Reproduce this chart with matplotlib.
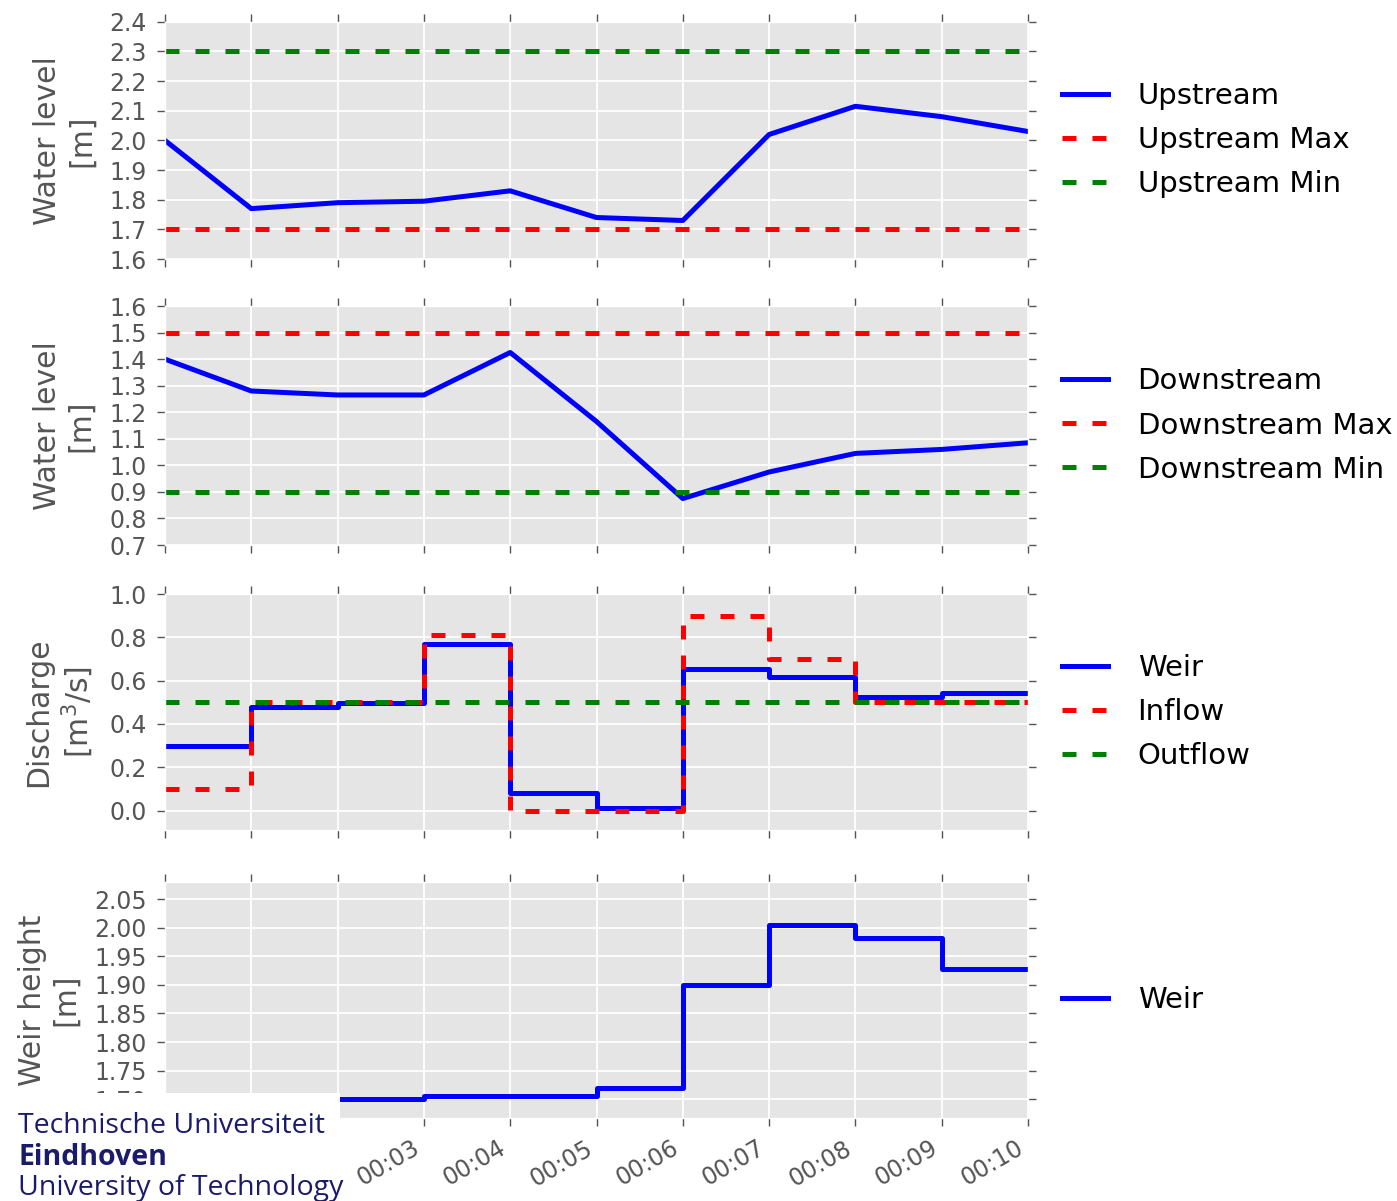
import numpy as np
import matplotlib
matplotlib.use("Agg")
import matplotlib.pyplot as plt
from matplotlib.patches import Rectangle

plt.style.use('ggplot')

# ---------------- data (one value per minute, 00:00 .. 00:10) ----------------
minutes = np.arange(11)
time_labels = ["00:%02d" % m for m in minutes]

upstream = [2.00, 1.77, 1.79, 1.795, 1.83, 1.74, 1.73, 2.02, 2.115, 2.08, 2.03]
upstream_max = 1.7
upstream_min = 2.3

downstream = [1.40, 1.28, 1.265, 1.265, 1.425, 1.165, 0.875, 0.975, 1.045, 1.06, 1.085]
downstream_max = 1.5
downstream_min = 0.9

weir_q = [0.30, 0.48, 0.497, 0.77, 0.08, 0.01, 0.655, 0.615, 0.525, 0.545, 0.545]
inflow = [0.10, 0.50, 0.50, 0.81, 0.0, 0.0, 0.90, 0.70, 0.50, 0.50, 0.50]
outflow = 0.5

weir_h = [1.70, 1.70, 1.70, 1.706, 1.706, 1.72, 1.90, 2.004, 1.982, 1.928, 1.928]

# ---------------- figure ----------------
fig = plt.figure(figsize=(13.97, 12.01), dpi=100)

left, width = 0.1181, 0.6178
boxes = [(0.7843, 0.1976), (0.5462, 0.1990), (0.3089, 0.1965), (0.0691, 0.1965)]
axs = [fig.add_axes([left, b, width, h]) for b, h in boxes]

lw = 3.6
dash = (2.8, 3.2)
tick_fs = 17
label_fs = 21.5
leg_fs = 21


def dashed(ax, y, color, label, steps=False):
    yy = np.full(len(minutes), y) if np.isscalar(y) else y
    ax.plot(minutes, yy, color=color, lw=lw, dashes=dash, label=label,
            drawstyle='steps-post' if steps else 'default')


# water level upstream
ax = axs[0]
ax.plot(minutes, upstream, color='b', lw=lw, label='Upstream')
dashed(ax, upstream_max, 'r', 'Upstream Max')
dashed(ax, upstream_min, 'g', 'Upstream Min')
ax.set_ylim(1.6, 2.4)
ax.set_yticks(np.arange(1.6, 2.41, 0.1))
ax.set_ylabel('Water level\n[m]', fontsize=label_fs, labelpad=10)

# water level downstream
ax = axs[1]
ax.plot(minutes, downstream, color='b', lw=lw, label='Downstream')
dashed(ax, downstream_max, 'r', 'Downstream Max')
dashed(ax, downstream_min, 'g', 'Downstream Min')
ax.set_ylim(0.7, 1.6)
ax.set_yticks(np.arange(0.7, 1.61, 0.1))
ax.set_ylabel('Water level\n[m]', fontsize=label_fs, labelpad=10)

# discharge
ax = axs[2]
ax.plot(minutes, weir_q, color='b', lw=lw, drawstyle='steps-post', label='Weir')
dashed(ax, inflow, 'r', 'Inflow', steps=True)
dashed(ax, outflow, 'g', 'Outflow')
ax.set_ylim(-0.09, 1.0)
ax.set_yticks(np.arange(0.0, 1.01, 0.2))
ax.set_ylabel('Discharge\n[m$^3$/s]', fontsize=label_fs, labelpad=10)

# weir height
ax = axs[3]
ax.plot(minutes, weir_h, color='b', lw=lw, drawstyle='steps-post', label='Weir')
ax.set_ylim(1.667, 2.08)
ax.set_yticks(np.arange(1.70, 2.051, 0.05))
ax.set_ylabel('Weir height\n[m]', fontsize=label_fs, labelpad=10)

for i, ax in enumerate(axs):
    ax.set_xlim(0, 10)
    ax.set_xticks(minutes)
    ax.grid(True, color='white', lw=1.3)
    ax.tick_params(axis='both', which='major', direction='out', length=6, width=1,
                   pad=7, colors='#555555', labelsize=tick_fs, top=True, right=True)
    ax.yaxis.label.set_color('#555555')
    ax.legend(loc='center left', bbox_to_anchor=(1.0255, 0.5), borderaxespad=0,
              frameon=False, fontsize=leg_fs, handlelength=1.57,
              handletextpad=1.03, labelspacing=0.55)
    if i < 3:
        ax.set_xticklabels([])
    else:
        ax.set_xticklabels(time_labels, rotation=30, ha='right')

# university logo in the lower left corner
fig.patches.append(Rectangle((0, 0), 0.2434, 0.0899, transform=fig.transFigure,
                             facecolor='white', edgecolor='none', zorder=10))
navy = '#1b1b6b'
fig.text(0.013, 0.0625, 'Technische Universiteit', color=navy, fontsize=20.5,
         family='Open Sans', va='center', zorder=11)
fig.text(0.013, 0.0365, 'Eindhoven', color=navy, fontsize=20.5, fontweight='bold',
         family='Open Sans', va='center', zorder=11)
fig.text(0.013, 0.0105, 'University of Technology', color=navy, fontsize=20.5,
         family='Open Sans', va='center', zorder=11)

fig.savefig('out.png', dpi=100)
